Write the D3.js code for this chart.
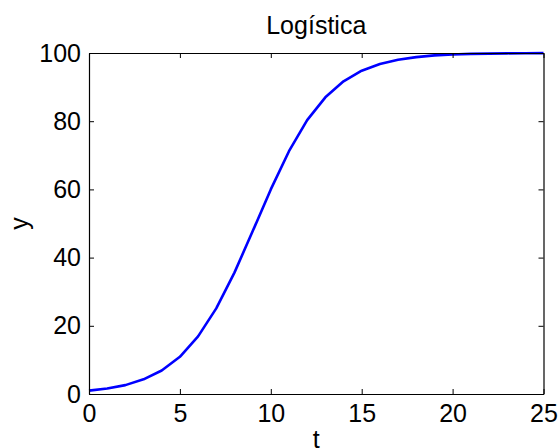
<!DOCTYPE html>
<html>
<head>
<meta charset="utf-8">
<script src="https://cdn.jsdelivr.net/npm/d3@7"></script>
<style>
body { margin: 0; background: #fff; }
text { font-family: "Liberation Sans", Arial, sans-serif; }
</style>
</head>
<body>
<div class="canva"></div>
<script>
// values
const tValues = [0,1,2,3,4,5,6,7,8,9,10,11,12,13,14,15,16,17,18,19,20,21,22,23,24,25];
const yValues = [1.0,1.6,2.6,4.3,6.9,10.9,16.9,25.1,35.6,47.7,60.0,71.2,80.3,87.0,91.7,94.8,96.8,98.0,98.8,99.3,99.55,99.73,99.83,99.9,99.94,99.96];
const xTicks = [0,5,10,15,20,25];
const yTicks = [0,20,40,60,80,100];

const W = 559, H = 448;
const m = {left: 89, right: 15.5, top: 53, bottom: 54};

const svg = d3.select('.canva').append('svg')
  .attr('width', W)
  .attr('height', H);

const x = d3.scaleLinear().domain([0,25]).range([m.left, W - m.right]);
const y = d3.scaleLinear().domain([0,100]).range([H - m.bottom, m.top]);

// line
const line = d3.line().x((d,i) => x(tValues[i])).y(d => y(d));
svg.append('path')
  .datum(yValues)
  .attr('d', line)
  .attr('fill', 'none')
  .attr('stroke', '#0000ff')
  .attr('stroke-width', 2.6)
  .attr('stroke-linejoin', 'round');

// axes (ticks inside, box)
const fs = 25;
const gB = svg.append('g').attr('transform', `translate(0,${H - m.bottom})`)
  .call(d3.axisBottom(x).tickValues(xTicks).tickSizeInner(-5).tickSizeOuter(0).tickPadding(10));
const gT = svg.append('g').attr('transform', `translate(0,${m.top})`)
  .call(d3.axisTop(x).tickValues(xTicks).tickSizeInner(-5).tickSizeOuter(0).tickFormat(''));
const gL = svg.append('g').attr('transform', `translate(${m.left},0)`)
  .call(d3.axisLeft(y).tickValues(yTicks).tickSizeInner(-5).tickSizeOuter(0).tickPadding(8));
const gR = svg.append('g').attr('transform', `translate(${W - m.right},0)`)
  .call(d3.axisRight(y).tickValues(yTicks).tickSizeInner(-5).tickSizeOuter(0).tickFormat(''));

[gB, gT, gL, gR].forEach(g => {
  g.select('.domain').attr('stroke', '#000').attr('stroke-width', 1.2);
  g.selectAll('.tick line').attr('stroke', '#000').attr('stroke-width', 1);
  g.selectAll('.tick text').attr('fill', '#000').style('font-size', fs + 'px')
    .style('font-family', '"Liberation Sans", Arial, sans-serif');
});

// title and labels
svg.append('text')
  .attr('x', (x(0) + x(25)) / 2)
  .attr('y', 34)
  .attr('text-anchor', 'middle')
  .style('font-size', fs + 'px')
  .text('Logística');

svg.append('text')
  .attr('x', (x(0) + x(25)) / 2)
  .attr('y', 448)
  .attr('text-anchor', 'middle')
  .style('font-size', fs + 'px')
  .text('t');

svg.append('text')
  .attr('transform', `translate(28,${(y(0) + y(100)) / 2}) rotate(-90)`)
  .attr('text-anchor', 'middle')
  .style('font-size', fs + 'px')
  .text('y');
</script>
</body>
</html>
